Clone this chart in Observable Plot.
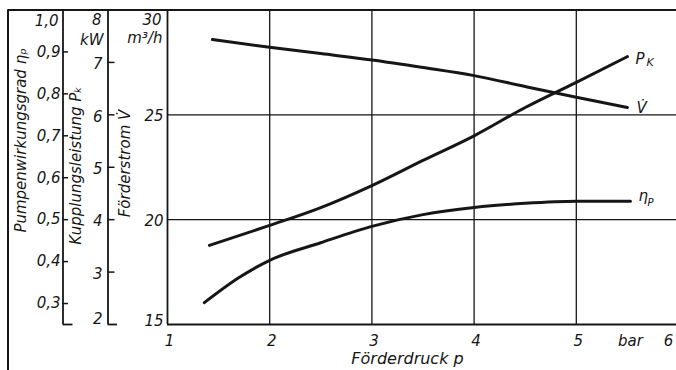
<!DOCTYPE html>
<html><head><meta charset="utf-8">
<script src="https://cdn.jsdelivr.net/npm/d3@7"></script>
<script src="https://cdn.jsdelivr.net/npm/@observablehq/plot@0.6"></script>
<style>
html,body{margin:0;padding:0;background:#fff;}
#chart svg{display:block;}
</style></head><body><div id="chart"></div>
<script>
// ---- tick values ----
const pressureTicks = [1, 2, 3, 4, 5, 6];
const flowTicks = [15, 20, 25, 30];
const powerTicks = [2, 3, 4, 5, 6, 7, 8];
const effTicks = [0.3, 0.4, 0.5, 0.6, 0.7, 0.8, 0.9, 1.0];

// ---- series ----
// Förderstrom V̇ (m³/h) vs Förderdruck p (bar)
const flowP = [1.44, 2, 2.5, 3, 3.5, 4, 4.5, 5, 5.5];
const flowV = [28.59, 28.22, 27.92, 27.62, 27.26, 26.87, 26.35, 25.84, 25.35];
// Kupplungsleistung P_K (kW)
const powerP = [1.41, 2, 2.5, 3, 3.5, 4, 4.5, 5, 5.5];
const powerK = [3.51, 3.89, 4.23, 4.65, 5.13, 5.60, 6.14, 6.62, 7.11];
// Pumpenwirkungsgrad η_P
const effP = [1.36, 1.7, 2, 2.5, 3, 3.5, 4, 4.5, 5, 5.53];
const effE = [0.302, 0.362, 0.403, 0.445, 0.484, 0.512, 0.529, 0.539, 0.544, 0.544];

// the three left axes share one vertical scale (Förderstrom 15…30)
const flowOfPower = k => 15 + (k - 2) * 2.5;
const flowOfEff = e => (e + 0.5) * 20;

const flowData = flowP.map((p, i) => ({p, v: flowV[i]}));
const powerData = powerP.map((p, i) => ({p, v: flowOfPower(powerK[i])}));
const effData = effP.map((p, i) => ({p, v: flowOfEff(effE[i])}));

const ink = "#161616";
const font = {fontFamily: "DejaVu Sans", fontStyle: "italic", fontSize: 15, fill: ink, lineAnchor: "middle"};
const comma = d => d.toFixed(1).replace(".", ",");
const one = () => 1;

const chart = Plot.plot({
  width: 676,
  height: 370,
  marginLeft: 167,
  marginRight: 0,
  marginTop: 9.5,
  marginBottom: 46,
  x: {domain: [1, 6], range: [167, 678], axis: null},
  y: {domain: [15, 30], axis: null},
  style: {background: "#fff"},
  marks: [
    // grid
    Plot.ruleX([2, 3, 4, 5], {stroke: ink, strokeWidth: 1.3}),
    Plot.ruleY([20, 25], {stroke: ink, strokeWidth: 1.3}),
    Plot.ruleY([15], {stroke: ink, strokeWidth: 1.8}),
    Plot.ruleY([30], {stroke: ink, strokeWidth: 2, insetLeft: -159.5}),
    // axis lines
    Plot.ruleX([1], {stroke: ink, strokeWidth: 1.8}),
    Plot.ruleX([1], {stroke: ink, strokeWidth: 1.8, dx: -59.5}),
    Plot.ruleX([1], {stroke: ink, strokeWidth: 1.8, dx: -104.5}),
    Plot.ruleX([1], {stroke: ink, strokeWidth: 2, dx: -159.5, insetBottom: -46}),
    // eta ticks
    Plot.ruleY(effTicks.filter(e => e < 1), {y: flowOfEff, x1: one, x2: one, dx: -104.5, insetRight: -5.5, stroke: ink, strokeWidth: 1.5}),
    Plot.ruleY([15], {x1: one, x2: one, dx: -104.5, insetRight: -10, stroke: ink, strokeWidth: 1.8}),
    // power ticks
    Plot.ruleY(powerTicks.filter(k => k > 2 && k < 8), {y: flowOfPower, x1: one, x2: one, dx: -59.5, insetRight: -7, stroke: ink, strokeWidth: 1.5}),
    Plot.ruleY([15], {x1: one, x2: one, dx: -59.5, insetRight: -9.5, stroke: ink, strokeWidth: 1.8}),

    // tick labels – eta
    Plot.text(effTicks.filter(e => e < 1), {y: flowOfEff, text: comma, frameAnchor: "left", dx: -107, textAnchor: "end", ...font}),
    Plot.text(effTicks.filter(e => e === 1), {y: flowOfEff, text: comma, frameAnchor: "left", dx: -109, dy: 11.5, textAnchor: "end", ...font}),
    // tick labels – power
    Plot.text(powerTicks.filter(k => k > 2 && k < 8), {y: flowOfPower, text: d => String(d), frameAnchor: "left", dx: -65, dy: 2, textAnchor: "end", ...font}),
    Plot.text(powerTicks.filter(k => k === 8), {y: flowOfPower, text: d => String(d), frameAnchor: "left", dx: -66, dy: 10, textAnchor: "end", ...font}),
    Plot.text(powerTicks.filter(k => k === 2), {y: flowOfPower, text: d => String(d), frameAnchor: "left", dx: -65, dy: -5, textAnchor: "end", ...font}),
    Plot.text(["kW"], {frameAnchor: "top-left", dx: -64, dy: 30.5, textAnchor: "end", ...font}),
    // tick labels – flow
    Plot.text(flowTicks.filter(v => v > 15 && v < 30), {y: d => d, text: d => String(d), frameAnchor: "left", dx: -4, dy: 1.5, textAnchor: "end", ...font}),
    Plot.text([30], {y: d => d, text: d => String(d), frameAnchor: "left", dx: -6, dy: 10.5, textAnchor: "end", ...font}),
    Plot.text([15], {y: d => d, text: d => String(d), frameAnchor: "left", dx: -4, dy: -3, textAnchor: "end", ...font}),
    Plot.text(["m³/h"], {frameAnchor: "top-left", dx: -5, dy: 28, textAnchor: "end", ...font}),

    // axis titles (rotated)
    Plot.text(["Pumpenwirkungsgrad ηₚ"], {frameAnchor: "top-left", dx: -146, dy: 130.5, rotate: -90, textAnchor: "middle", ...font}),
    Plot.text(["Kupplungsleistung Pₖ"], {frameAnchor: "top-left", dx: -91, dy: 155.5, rotate: -90, textAnchor: "middle", ...font}),
    Plot.text(["Förderstrom V̇"], {frameAnchor: "top-left", dx: -42, dy: 153.5, rotate: -90, textAnchor: "middle", ...font}),

    // x tick labels
    Plot.text(pressureTicks.filter(p => p < 6), {x: d => d, text: d => String(d), frameAnchor: "bottom", dy: 17, dx: 2, ...font}),
    Plot.text([6], {x: d => d, text: d => String(d), frameAnchor: "bottom", dy: 17, dx: -10, ...font}),
    Plot.text(["bar"], {x: () => 5.5, frameAnchor: "bottom", dy: 17, dx: 3, ...font}),
    Plot.text(["Förderdruck p"], {frameAnchor: "bottom", dx: -14.5, dy: 34, ...font, fontSize: 16}),

    // curves
    Plot.line(flowData, {x: "p", y: "v", curve: "monotone-x", stroke: ink, strokeWidth: 3}),
    Plot.line(powerData, {x: "p", y: "v", curve: "monotone-x", stroke: ink, strokeWidth: 3}),
    Plot.line(effData, {x: "p", y: "v", curve: "monotone-x", stroke: ink, strokeWidth: 3}),

    // curve labels
    Plot.text(powerData.slice(-1), {x: "p", y: "v", text: () => "P", dx: 8, dy: 3, textAnchor: "start", ...font}),
    Plot.text(powerData.slice(-1), {x: "p", y: "v", text: () => "K", dx: 19, dy: 6, textAnchor: "start", ...font, fontSize: 11}),
    Plot.text(flowData.slice(-1), {x: "p", y: "v", text: () => "V̇", dx: 9, dy: 1, textAnchor: "start", ...font}),
    Plot.text(effData.slice(-1), {x: "p", y: "v", text: () => "η", dx: 8, dy: -5, textAnchor: "start", ...font}),
    Plot.text(effData.slice(-1), {x: "p", y: "v", text: () => "P", dx: 17, dy: 2, textAnchor: "start", ...font, fontSize: 10})
  ]
});
document.getElementById("chart").appendChild(chart);
</script>
</body></html>
